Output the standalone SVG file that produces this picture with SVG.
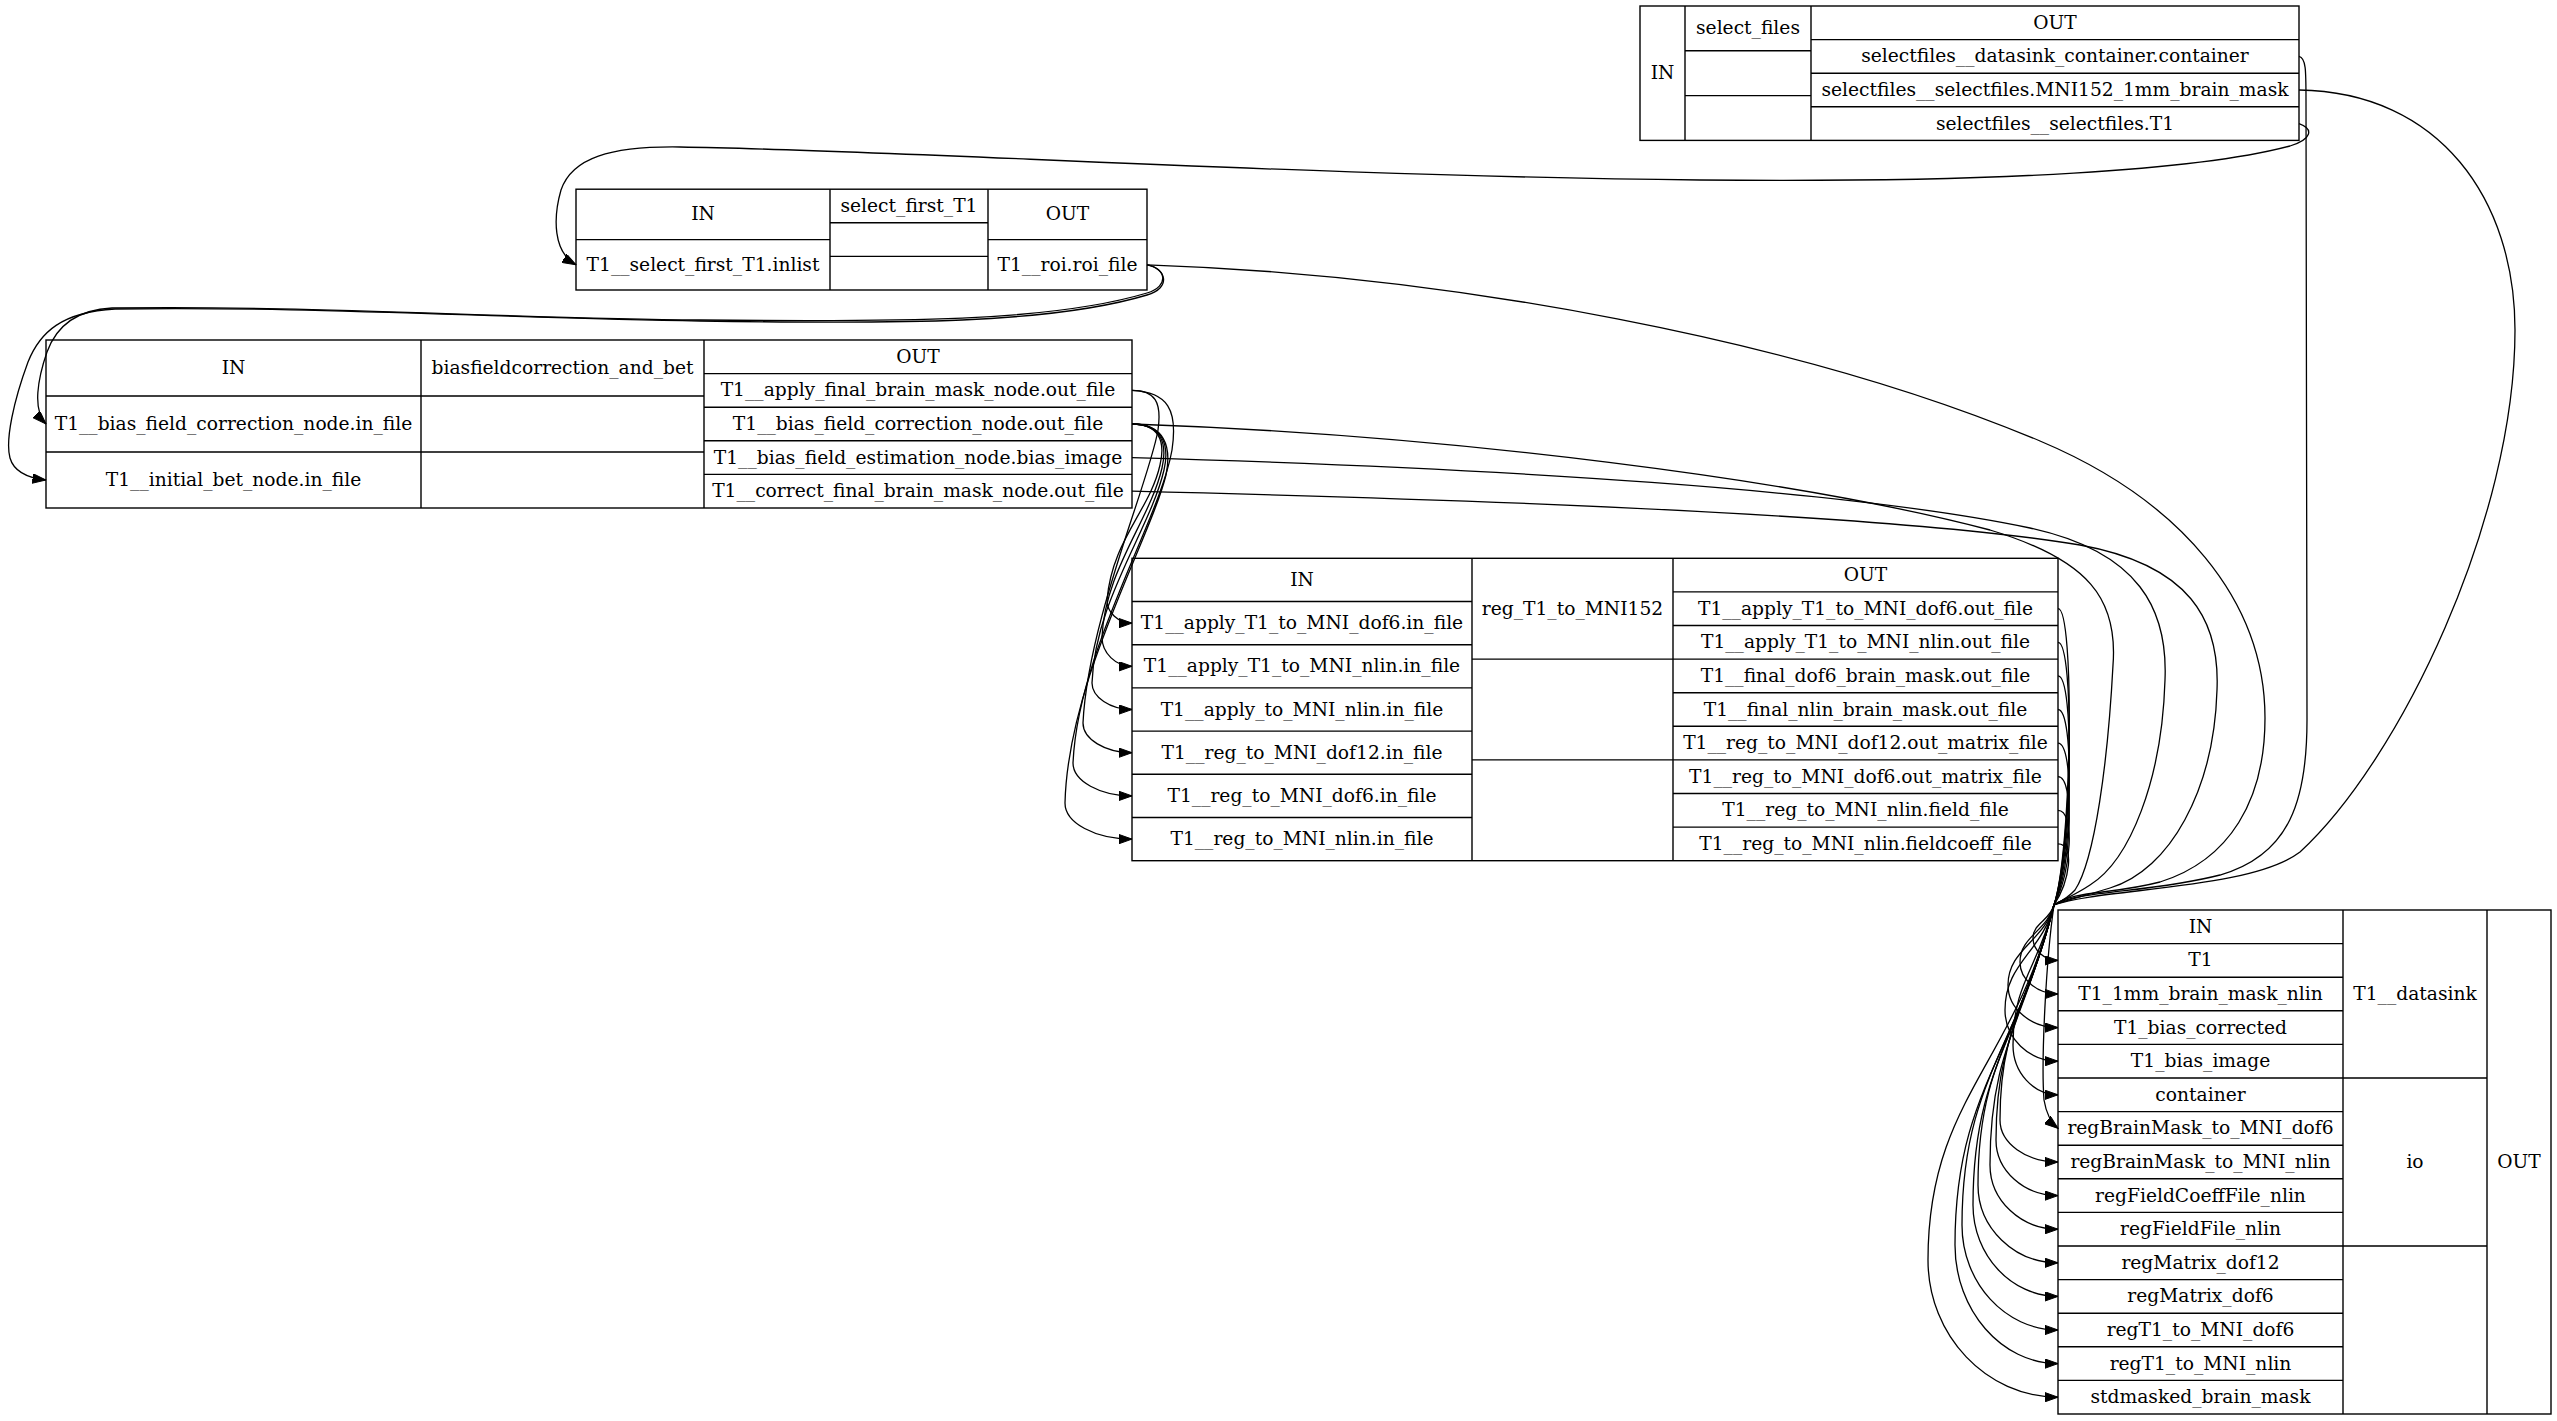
<svg xmlns="http://www.w3.org/2000/svg" width="2557" height="1421" viewBox="0 0 2557 1421">
<style>
  .box { fill: none; stroke: #000; stroke-width: 1.4; }
  .t { font-family: "DejaVu Serif", "Liberation Serif", serif; font-size: 18.67px; fill: #000; text-anchor: middle; }
  .e { fill: none; stroke: #000; stroke-width: 1.3; marker-end: url(#arr); }
</style>
<defs>
  <marker id="arr" markerUnits="userSpaceOnUse" markerWidth="14" markerHeight="10" refX="13.5" refY="4.8" orient="auto">
    <path d="M0,0 L13.5,4.8 L0,9.6 z" fill="#000" stroke="#000" stroke-width="1"/>
  </marker>
</defs>
<rect width="2557" height="1421" fill="#fff"/>

<g id="selectfiles">
  <rect class="box" x="1640" y="6" width="659" height="134.4"/>
  <path class="box" d="M1685,6V140.4 M1811,6V140.4 M1685,50.8H1811 M1685,95.6H1811 M1811,39.6H2299 M1811,73.2H2299 M1811,106.8H2299"/>
  <text class="t" x="1662.5" y="79.2">IN</text>
  <text class="t" x="1748" y="34.4">select_files</text>
  <text class="t" x="2055" y="28.8">OUT</text>
  <text class="t" x="2055" y="62.4">selectfiles__datasink_container.container</text>
  <text class="t" x="2055" y="96">selectfiles__selectfiles.MNI152_1mm_brain_mask</text>
  <text class="t" x="2055" y="129.6">selectfiles__selectfiles.T1</text>
</g>

<g id="select_first_T1">
  <rect class="box" x="576" y="189.2" width="571" height="100.8"/>
  <path class="box" d="M830,189.2V290 M988,189.2V290 M576,239.6H830 M830,222.8H988 M830,256.4H988 M988,239.6H1147"/>
  <text class="t" x="703" y="220.4">IN</text>
  <text class="t" x="703" y="270.8">T1__select_first_T1.inlist</text>
  <text class="t" x="909" y="212">select_first_T1</text>
  <text class="t" x="1067.5" y="220.4">OUT</text>
  <text class="t" x="1067.5" y="270.8">T1__roi.roi_file</text>
</g>

<g id="biasfieldcorrection_and_bet">
  <rect class="box" x="46" y="340" width="1086" height="168"/>
  <path class="box" d="M421,340V508 M704,340V508 M46,396H704 M46,452H704 M704,373.6H1132 M704,407.2H1132 M704,440.8H1132 M704,474.4H1132"/>
  <text class="t" x="233.5" y="374">IN</text>
  <text class="t" x="233.5" y="430">T1__bias_field_correction_node.in_file</text>
  <text class="t" x="233.5" y="486">T1__initial_bet_node.in_file</text>
  <text class="t" x="562.5" y="374">biasfieldcorrection_and_bet</text>
  <text class="t" x="918" y="362.8">OUT</text>
  <text class="t" x="918" y="396.4">T1__apply_final_brain_mask_node.out_file</text>
  <text class="t" x="918" y="430">T1__bias_field_correction_node.out_file</text>
  <text class="t" x="918" y="463.6">T1__bias_field_estimation_node.bias_image</text>
  <text class="t" x="918" y="497.2">T1__correct_final_brain_mask_node.out_file</text>
</g>

<g id="reg_T1_to_MNI152">
  <rect class="box" x="1132" y="558.3" width="926" height="302.4"/>
  <path class="box" d="M1472,558.3V860.7 M1673,558.3V860.7 M1132,601.5H1472 M1132,644.7H1472 M1132,687.9H1472 M1132,731.1H1472 M1132,774.3H1472 M1132,817.5H1472 M1472,659.1H1673 M1472,759.9H1673 M1673,591.9H2058 M1673,625.5H2058 M1673,659.1H2058 M1673,692.7H2058 M1673,726.3H2058 M1673,759.9H2058 M1673,793.5H2058 M1673,827.1H2058"/>
  <text class="t" x="1302" y="585.9">IN</text>
  <text class="t" x="1302" y="629.1">T1__apply_T1_to_MNI_dof6.in_file</text>
  <text class="t" x="1302" y="672.3">T1__apply_T1_to_MNI_nlin.in_file</text>
  <text class="t" x="1302" y="715.5">T1__apply_to_MNI_nlin.in_file</text>
  <text class="t" x="1302" y="758.7">T1__reg_to_MNI_dof12.in_file</text>
  <text class="t" x="1302" y="801.9">T1__reg_to_MNI_dof6.in_file</text>
  <text class="t" x="1302" y="845.1">T1__reg_to_MNI_nlin.in_file</text>
  <text class="t" x="1572.5" y="614.7">reg_T1_to_MNI152</text>
  <text class="t" x="1865.5" y="581.1">OUT</text>
  <text class="t" x="1865.5" y="614.7">T1__apply_T1_to_MNI_dof6.out_file</text>
  <text class="t" x="1865.5" y="648.3">T1__apply_T1_to_MNI_nlin.out_file</text>
  <text class="t" x="1865.5" y="681.9">T1__final_dof6_brain_mask.out_file</text>
  <text class="t" x="1865.5" y="715.5">T1__final_nlin_brain_mask.out_file</text>
  <text class="t" x="1865.5" y="749.1">T1__reg_to_MNI_dof12.out_matrix_file</text>
  <text class="t" x="1865.5" y="782.7">T1__reg_to_MNI_dof6.out_matrix_file</text>
  <text class="t" x="1865.5" y="816.3">T1__reg_to_MNI_nlin.field_file</text>
  <text class="t" x="1865.5" y="849.9">T1__reg_to_MNI_nlin.fieldcoeff_file</text>
</g>

<g id="T1__datasink">
  <rect class="box" x="2058" y="910" width="493" height="504"/>
  <path class="box" d="M2343,910V1414 M2487,910V1414 M2058,943.6H2343 M2058,977.2H2343 M2058,1010.8H2343 M2058,1044.4H2343 M2058,1078H2343 M2058,1111.6H2343 M2058,1145.2H2343 M2058,1178.8H2343 M2058,1212.4H2343 M2058,1246H2343 M2058,1279.6H2343 M2058,1313.2H2343 M2058,1346.8H2343 M2058,1380.4H2343 M2343,1078H2487 M2343,1246H2487"/>
  <text class="t" x="2200.5" y="932.8">IN</text>
  <text class="t" x="2200.5" y="966.4">T1</text>
  <text class="t" x="2200.5" y="1000">T1_1mm_brain_mask_nlin</text>
  <text class="t" x="2200.5" y="1033.6">T1_bias_corrected</text>
  <text class="t" x="2200.5" y="1067.2">T1_bias_image</text>
  <text class="t" x="2200.5" y="1100.8">container</text>
  <text class="t" x="2200.5" y="1134.4">regBrainMask_to_MNI_dof6</text>
  <text class="t" x="2200.5" y="1168">regBrainMask_to_MNI_nlin</text>
  <text class="t" x="2200.5" y="1201.6">regFieldCoeffFile_nlin</text>
  <text class="t" x="2200.5" y="1235.2">regFieldFile_nlin</text>
  <text class="t" x="2200.5" y="1268.8">regMatrix_dof12</text>
  <text class="t" x="2200.5" y="1302.4">regMatrix_dof6</text>
  <text class="t" x="2200.5" y="1336">regT1_to_MNI_dof6</text>
  <text class="t" x="2200.5" y="1369.6">regT1_to_MNI_nlin</text>
  <text class="t" x="2200.5" y="1403.2">stdmasked_brain_mask</text>
  <text class="t" x="2415" y="1000">T1__datasink</text>
  <text class="t" x="2415" y="1168">io</text>
  <text class="t" x="2519" y="1168">OUT</text>
</g>

<g id="edges">
  <!-- selectfiles T1 -> select_first_T1 inlist -->
  <path class="e" d="M2299,123.6 C2314,129 2312,139 2290,146 C2200,170 2000,183 1700,180 C1300,176 900,150 680,147 C610,146 572,158 561,190 C553,218 553,252 576,264.8"/>
  <!-- roi_file -> bias correction inputs -->
  <path class="e" d="M1147,264.8 C1166,268 1170,286 1147,293 C1050,322 900,322 700,320 C500,318 300,305 112,308 C72,310 55,330 47,352 C38,378 32,410 46,424"/>
  <path class="e" d="M1147,264.8 C1166,268 1172,288 1147,295 C1050,324 900,324 700,321 C500,318 300,306 115,309 C62,312 40,332 28,362 C14,400 5,440 10,458 C14,472 28,478 46,480"/>
  <!-- roi_file -> datasink T1 -->
  <path class="e" d="M1147,264.8 C1450,275 1800,340 2040,441 C2180,500 2265,600 2265,718 C2265,800 2230,860 2160,882 C2110,895 2075,890 2054,905 C2050.3,919.9 2033,923.2 2033,938 C2033,950.2 2044.3,960.4 2058,960.4"/>
  <!-- selectfiles container -> datasink container -->
  <path class="e" d="M2299,56.4 C2306,58 2306,70 2306,100 L2307,720 C2307,800 2290,855 2220,875 C2150,893 2080,890 2054,905 C2038.3,968 2013,982 2013,1045 C2013,1072.4 2033.3,1094.8 2058,1094.8"/>
  <!-- selectfiles MNI152 mask -> datasink stdmasked_brain_mask -->
  <path class="e" d="M2299,90 C2440,92 2515,200 2515,330 C2515,520 2400,760 2300,852 C2250,890 2100,888 2054,905 C2014,1065 1928,1100 1928,1260 C1928,1335.5 1986.5,1397.2 2058,1397.2"/>
  <!-- biasfield outputs -> datasink -->
  <path class="e" d="M1132,424 C1450,435 1800,480 1990,530 C2090,560 2118,600 2113,665 C2108,760 2095,860 2075,890 C2068,898 2060,902 2054,905 C2045,941 2008,949 2008,985 C2008,1008.4 2030.5,1027.6 2058,1027.6"/>
  <path class="e" d="M1132,457.6 C1500,468 1850,490 2030,528 C2140,552 2168,610 2165,680 C2162,780 2130,860 2090,885 C2075,895 2062,900 2054,905 C2042.2,952.3 2005,962.8 2005,1010 C2005,1038.2 2028.9,1061.2 2058,1061.2"/>
  <path class="e" d="M1132,491.2 C1500,500 1900,515 2080,545 C2190,565 2220,620 2217,690 C2214,790 2170,870 2110,888 C2085,896 2065,900 2054,905 C2047.6,930.7 2020,936.4 2020,962 C2020,979.6 2037.1,994 2058,994"/>
  <!-- biasfield outputs -> registration inputs -->
  <path class="e" d="M1132,424 C1158,424 1166,440 1160,465 C1150,510 1112,540 1107,600 C1107,612.7 1118.3,623.1 1132,623.1"/>
  <path class="e" d="M1132,424 C1160,424 1168,442 1162,468 C1150,520 1105,570 1102,637 C1102,653 1115.5,666.3 1132,666.3"/>
  <path class="e" d="M1132,424 C1162,424 1170,444 1164,470 C1150,530 1095,600 1092,683 C1092,697 1110,709.5 1132,709.5"/>
  <path class="e" d="M1132,390.4 C1155,390.4 1162,402 1158,430 C1150,480 1088,620 1083,723 C1083,739 1105,752.7 1132,752.7"/>
  <path class="e" d="M1132,390.4 C1168,392 1178,410 1172,450 C1160,520 1078,650 1073,763 C1073,781 1100,795.9 1132,795.9"/>
  <path class="e" d="M1132,424 C1164,424 1172,446 1166,475 C1150,540 1068,680 1065,803 C1065,823 1095,839.1 1132,839.1"/>
  <!-- registration outputs -> datasink -->
  <path class="e" d="M2058,608.7 C2075,608.7 2072,850 2054,905 C2018,1049 1962,1081 1962,1225 C1962,1282.8 2005.2,1330 2058,1330"/>
  <path class="e" d="M2058,642.3 C2075,642.3 2072,850 2054,905 C2015.8,1058 1955,1092 1955,1245 C1955,1310.2 2001.4,1363.6 2058,1363.6"/>
  <path class="e" d="M2058,675.9 C2075,675.9 2072,850 2054,905 C2046,960 2041,1060 2044,1100 C2046,1112 2050,1122 2058,1128.4"/>
  <path class="e" d="M2058,709.5 C2075,709.5 2072,855 2054,905 C2029.8,1001.8 2000,1023.3 2000,1120 C2000,1143.1 2026.1,1162 2058,1162"/>
  <path class="e" d="M2058,743.1 C2075,743.1 2072,860 2054,905 C2022.5,1031 1978,1059 1978,1185 C1978,1227.8 2014,1262.8 2058,1262.8"/>
  <path class="e" d="M2058,776.7 C2075,776.7 2072,865 2054,905 C2020.3,1040 1973,1070 1973,1205 C1973,1255.3 2011.3,1296.4 2058,1296.4"/>
  <path class="e" d="M2058,810.3 C2075,810.3 2072,870 2054,905 C2024.8,1022 1990,1048 1990,1165 C1990,1200.3 2020.6,1229.2 2058,1229.2"/>
  <path class="e" d="M2058,843.9 C2075,843.9 2070,880 2054,905 C2027.6,1010.8 1996,1034.3 1996,1140 C1996,1170.6 2023.9,1195.6 2058,1195.6"/>
</g>
</svg>
